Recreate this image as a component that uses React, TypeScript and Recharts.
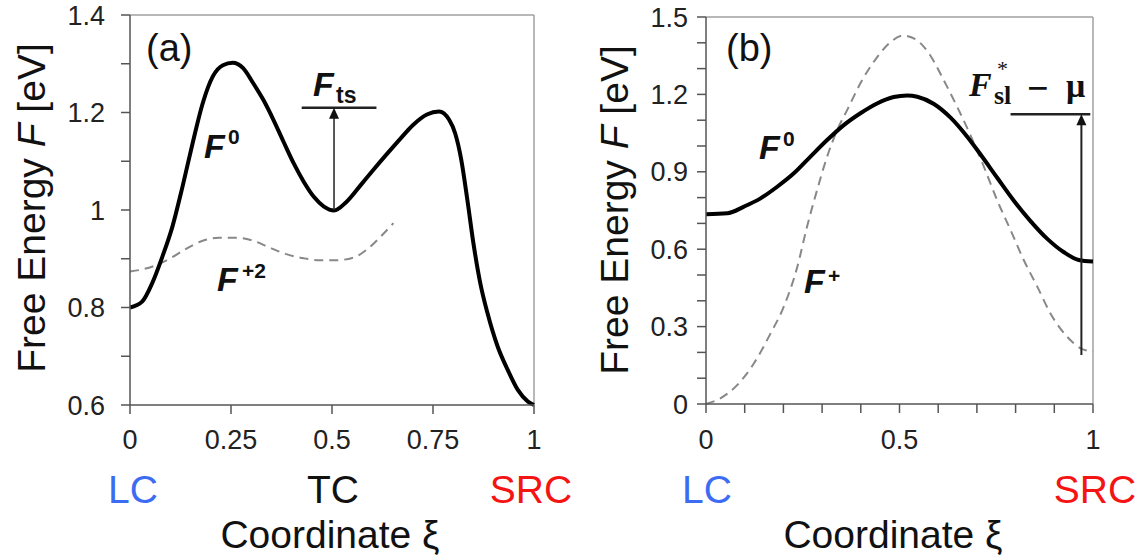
import React from 'react';
import { LineChart, Line, XAxis, YAxis, ReferenceLine, ReferenceDot } from 'recharts';

// panel (a): F0 and F+2 along the coordinate
const xiA0 = [0, 0.03, 0.055, 0.08, 0.105, 0.13, 0.155, 0.18, 0.205, 0.23, 0.254, 0.28, 0.305, 0.33, 0.355, 0.38, 0.405, 0.43, 0.455, 0.48, 0.505, 0.535, 0.57, 0.6, 0.635, 0.67, 0.7, 0.735, 0.765, 0.79, 0.805, 0.82, 0.835, 0.85, 0.867, 0.885, 0.91, 0.935, 0.96, 0.985, 1];
const fA0 = [0.8, 0.812, 0.85, 0.904, 0.966, 1.048, 1.137, 1.219, 1.274, 1.297, 1.302, 1.291, 1.26, 1.226, 1.185, 1.14, 1.096, 1.058, 1.027, 1.007, 0.999, 1.016, 1.05, 1.08, 1.114, 1.147, 1.174, 1.196, 1.202, 1.185, 1.157, 1.103, 1.021, 0.932, 0.85, 0.788, 0.72, 0.672, 0.631, 0.607, 0.6];
const xiA2 = [0, 0.03, 0.065, 0.1, 0.14, 0.18, 0.22, 0.265, 0.305, 0.345, 0.385, 0.43, 0.47, 0.51, 0.555, 0.585, 0.62, 0.652];
const fA2 = [0.874, 0.878, 0.887, 0.901, 0.921, 0.937, 0.943, 0.943, 0.937, 0.923, 0.91, 0.901, 0.897, 0.897, 0.903, 0.918, 0.945, 0.973];

// panel (b): F0 and F+
const xiB0 = [0, 0.055, 0.098, 0.141, 0.184, 0.227, 0.27, 0.313, 0.356, 0.399, 0.442, 0.485, 0.52, 0.546, 0.589, 0.632, 0.675, 0.709, 0.752, 0.795, 0.838, 0.882, 0.925, 0.963, 1];
const fB0 = [0.735, 0.739, 0.765, 0.797, 0.842, 0.894, 0.959, 1.023, 1.081, 1.127, 1.165, 1.19, 1.196, 1.191, 1.163, 1.11, 1.036, 0.968, 0.878, 0.789, 0.71, 0.64, 0.588, 0.558, 0.552];
const xiB1 = [0, 0.037, 0.081, 0.124, 0.167, 0.201, 0.236, 0.261, 0.287, 0.313, 0.339, 0.365, 0.399, 0.44, 0.475, 0.51, 0.545, 0.58, 0.614, 0.649, 0.683, 0.718, 0.752, 0.787, 0.821, 0.856, 0.89, 0.933, 0.968, 1];
const fB1 = [0, 0.022, 0.074, 0.158, 0.274, 0.377, 0.532, 0.687, 0.829, 0.959, 1.062, 1.14, 1.243, 1.34, 1.4, 1.428, 1.41, 1.35, 1.256, 1.152, 1.043, 0.92, 0.791, 0.674, 0.558, 0.455, 0.351, 0.261, 0.216, 0.203];

// ticks
const xTicksA = [0, 0.25, 0.5, 0.75, 1];
const xLabelsA = ['0', '0.25', '0.5', '0.75', '1'];
const yTicksA = [0.6, 0.7, 0.8, 0.9, 1, 1.1, 1.2, 1.3, 1.4];
const yLabelsA = ['0.6', '', '0.8', '', '1', '', '1.2', '', '1.4'];
const xTicksB = [0, 0.1, 0.2, 0.3, 0.4, 0.5, 0.6, 0.7, 0.8, 0.9, 1];
const xLabelsB = ['0', '', '', '', '', '0.5', '', '', '', '', '1'];
const yTicksB = [0, 0.1, 0.2, 0.3, 0.4, 0.5, 0.6, 0.7, 0.8, 0.9, 1, 1.1, 1.2, 1.3, 1.4, 1.5];
const yLabelsB = ['0', '', '', '0.3', '', '', '0.6', '', '', '0.9', '', '', '1.2', '', '', '1.5'];

const toPts = (xs: number[], ys: number[]) => xs.map((x, i) => ({ x, y: ys[i] }));

const SANS = '"Liberation Sans", Arial, sans-serif';
const SERIF = '"Liberation Serif", "Times New Roman", serif';
const tickStyle = { fill: '#222', fontSize: 27, fontFamily: SANS };
const axisLine = { stroke: '#555', strokeWidth: 1.5 };
const tickLine = { stroke: '#555', strokeWidth: 1.5 };
const frame = '#a0a0a0';

const arrowHead = (p: any) => (
  <polygon points={`${p.cx},${p.cy} ${p.cx - 5},${p.cy + 11} ${p.cx + 5},${p.cy + 11}`} fill="#111" />
);

function PanelA() {
  return (
    <LineChart width={560} height={470} margin={{ top: 15, right: 26, bottom: 0, left: 0 }}>
      <XAxis
        dataKey="x"
        type="number"
        domain={[0, 1]}
        ticks={xTicksA}
        interval={0}
        tickFormatter={(v, i) => xLabelsA[i]}
        tick={tickStyle}
        tickSize={9}
        tickMargin={16}
        height={65}
        axisLine={axisLine}
        tickLine={tickLine}
      />
      <YAxis
        type="number"
        domain={[0.6, 1.4]}
        ticks={yTicksA}
        interval={0}
        tickFormatter={(v, i) => yLabelsA[i]}
        tick={tickStyle}
        tickSize={9}
        tickMargin={16}
        width={130}
        axisLine={axisLine}
        tickLine={tickLine}
      />
      <ReferenceLine y={1.4} stroke={frame} strokeWidth={1.5} />
      <ReferenceLine x={1} stroke={frame} strokeWidth={1.5} />
      <Line data={toPts(xiA2, fA2)} dataKey="y" type="monotone" stroke="#888" strokeWidth={2} strokeDasharray="9 6" dot={false} isAnimationActive={false} />
      <Line data={toPts(xiA0, fA0)} dataKey="y" type="monotone" stroke="#000" strokeWidth={4} dot={false} isAnimationActive={false} />
      <ReferenceLine segment={[{ x: 0.425, y: 1.21 }, { x: 0.61, y: 1.21 }]} stroke="#222" strokeWidth={2.5} />
      <ReferenceLine segment={[{ x: 0.505, y: 1.0 }, { x: 0.505, y: 1.195 }]} stroke="#222" strokeWidth={1.5} />
      <ReferenceDot x={0.505} y={1.21} r={0} shape={arrowHead} />
    </LineChart>
  );
}

function PanelB() {
  return (
    <LineChart width={564} height={470} margin={{ top: 17, right: 51, bottom: 0, left: 0 }}>
      <XAxis
        dataKey="x"
        type="number"
        domain={[0, 1]}
        ticks={xTicksB}
        interval={0}
        tickFormatter={(v, i) => xLabelsB[i]}
        tick={tickStyle}
        tickSize={9}
        tickMargin={17}
        height={66}
        axisLine={axisLine}
        tickLine={tickLine}
      />
      <YAxis
        type="number"
        domain={[0, 1.5]}
        ticks={yTicksB}
        interval={0}
        tickFormatter={(v, i) => yLabelsB[i]}
        tick={tickStyle}
        tickSize={9}
        tickMargin={9}
        width={126}
        axisLine={axisLine}
        tickLine={tickLine}
      />
      <ReferenceLine y={1.5} stroke={frame} strokeWidth={1.5} />
      <ReferenceLine x={1} stroke={frame} strokeWidth={1.5} />
      <Line data={toPts(xiB1, fB1)} dataKey="y" type="monotone" stroke="#888" strokeWidth={2} strokeDasharray="9 6" dot={false} isAnimationActive={false} />
      <Line data={toPts(xiB0, fB0)} dataKey="y" type="monotone" stroke="#000" strokeWidth={4} dot={false} isAnimationActive={false} />
      <ReferenceLine segment={[{ x: 0.787, y: 1.123 }, { x: 0.993, y: 1.123 }]} stroke="#222" strokeWidth={2.5} />
      <ReferenceLine segment={[{ x: 0.97, y: 0.19 }, { x: 0.97, y: 1.1 }]} stroke="#222" strokeWidth={2} />
      <ReferenceDot x={0.97} y={1.123} r={0} shape={arrowHead} />
    </LineChart>
  );
}

export default function App() {
  const big = { fontFamily: SANS, fontSize: 39, fill: '#111' };
  const bi = { fontFamily: SANS, fontWeight: 700, fontStyle: 'italic' as const, fill: '#111', fontSize: 34 };
  const sup = { fontFamily: SANS, fontWeight: 700, fontSize: 21, fill: '#111' };
  return (
    <div style={{ position: 'absolute', left: 0, top: 0, width: 1144, height: 557, background: '#fff' }}>
      <div style={{ position: 'absolute', left: 0, top: 0 }}>
        <PanelA />
      </div>
      <div style={{ position: 'absolute', left: 580, top: 0 }}>
        <PanelB />
      </div>
      <svg width={1144} height={557} style={{ position: 'absolute', left: 0, top: 0, pointerEvents: 'none' }}>
        {/* axis titles */}
        <text {...big} x={45} y={208} textAnchor="middle" transform="rotate(-90 45 208)">
          Free Energy <tspan fontStyle="italic">F</tspan> [eV]
        </text>
        <text {...big} x={628} y={210} textAnchor="middle" transform="rotate(-90 628 210)">
          Free Energy <tspan fontStyle="italic">F</tspan> [eV]
        </text>
        <text {...big} x={133} y={503} textAnchor="middle" fill="#3b6cf2">LC</text>
        <text {...big} x={333} y={503} textAnchor="middle">TC</text>
        <text {...big} x={531} y={503} textAnchor="middle" fill="#f41414">SRC</text>
        <text {...big} x={330} y={548} textAnchor="middle">Coordinate ξ</text>
        <text {...big} x={707} y={503} textAnchor="middle" fill="#3b6cf2">LC</text>
        <text {...big} x={1095} y={503} textAnchor="middle" fill="#f41414">SRC</text>
        <text {...big} x={893} y={548} textAnchor="middle">Coordinate ξ</text>

        {/* panel (a) annotations */}
        <text {...big} fontSize={38} x={146} y={61}>(a)</text>
        <text {...bi} x={204} y={158}>F</text>
        <text {...sup} x={228} y={144}>0</text>
        <text {...bi} x={313} y={96}>F</text>
        <text {...sup} fontSize={23} x={336} y={103}>ts</text>
        <text {...bi} x={217} y={291}>F</text>
        <text {...sup} x={242} y={278}>+2</text>

        {/* panel (b) annotations */}
        <text {...big} fontSize={38} x={726} y={61}>(b)</text>
        <text {...bi} x={759} y={159}>F</text>
        <text {...sup} x={783} y={146}>0</text>
        <text {...bi} x={804} y={293}>F</text>
        <text {...sup} x={828} y={283}>+</text>
        <text fontFamily={SERIF} fill="#111" x={969} y={96}>
          <tspan fontWeight={700} fontStyle="italic" fontSize={34}>F</tspan>
          <tspan fontSize={22} x={997} y={76}>*</tspan>
          <tspan fontWeight={700} fontSize={26} x={994} y={104}>sl</tspan>
          <tspan fontWeight={700} fontSize={38} x={1027} y={101}>−</tspan>
          <tspan fontWeight={700} fontSize={34} x={1066} y={97}>μ</tspan>
        </text>
      </svg>
    </div>
  );
}
